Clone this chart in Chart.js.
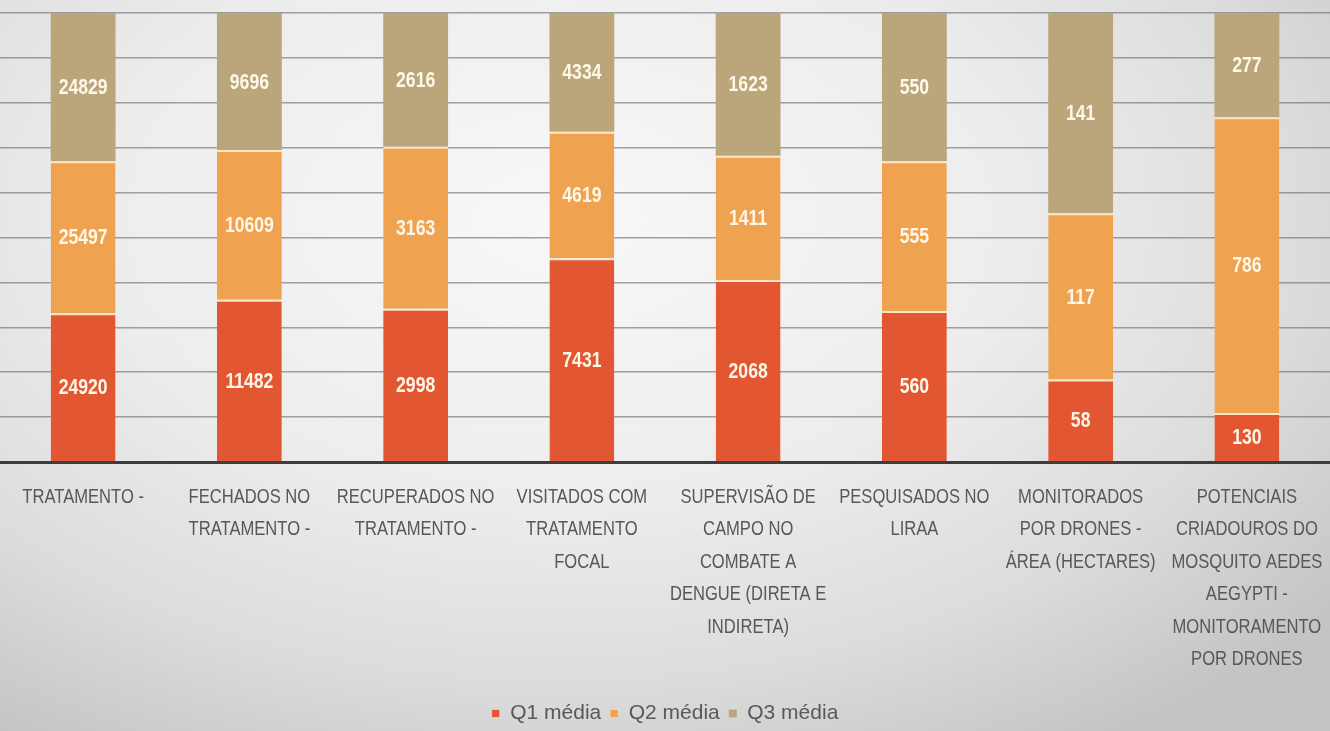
<!DOCTYPE html>
<html>
<head>
<meta charset="utf-8">
<script src="https://cdn.jsdelivr.net/npm/chart.js@4.4.1/dist/chart.umd.min.js"></script>
<style>
  html, body { margin: 0; padding: 0; }
  #wrap {
    width: 1330px;
    height: 731px;
    position: relative;
    background: radial-gradient(ellipse 75% 85% at 42% 30%, #f8f8f8 0%, #ededed 45%, #dcdcdc 75%, #c4c4c4 100%);
  }
</style>
</head>
<body>
<div id="wrap"><canvas id="chart"></canvas></div>
<script>
// categorias (eixo x, já quebradas em linhas como no slide)
const categories = [
  ["TRATAMENTO -"],
  ["FECHADOS NO", "TRATAMENTO -"],
  ["RECUPERADOS NO", "TRATAMENTO -"],
  ["VISITADOS COM", "TRATAMENTO", "FOCAL"],
  ["SUPERVISÃO DE", "CAMPO NO", "COMBATE A", "DENGUE (DIRETA E", "INDIRETA)"],
  ["PESQUISADOS NO", "LIRAA"],
  ["MONITORADOS", "POR DRONES -", "ÁREA (HECTARES)"],
  ["POTENCIAIS", "CRIADOUROS DO", "MOSQUITO AEDES", "AEGYPTI -", "MONITORAMENTO", "POR DRONES"]
];

const q1Media = [24920, 11482, 2998, 7431, 2068, 560, 58, 130];
const q2Media = [25497, 10609, 3163, 4619, 1411, 555, 117, 786];
const q3Media = [24829, 9696, 2616, 4334, 1623, 550, 141, 277];

const seriesNames = ["Q1 média", "Q2 média", "Q3 média"];
const seriesColors = ["#E25632", "#EFA24F", "#BBA67C"];

// 100% empilhado: cada barra vira percentual do total da categoria
const totals = q1Media.map((v, i) => v + q2Media[i] + q3Media[i]);
const pct = arr => arr.map((v, i) => v / totals[i] * 100);

const rawValues = [q1Media, q2Media, q3Media];

// texto "estreito": a fonte do slide é condensada, então comprime na horizontal
function narrowText(ctx, text, x, y, sx) {
  ctx.save();
  ctx.translate(x, y);
  ctx.scale(sx, 1);
  ctx.fillText(text, 0, 0);
  ctx.restore();
}

// rótulos de valor dentro de cada segmento
const valueLabels = {
  id: "valueLabels",
  afterDatasetsDraw(chart) {
    const ctx = chart.ctx;
    ctx.save();
    ctx.font = "bold 22px 'Liberation Sans', Arial, sans-serif";
    ctx.fillStyle = "#FFF8E8";
    ctx.textAlign = "center";
    ctx.textBaseline = "middle";
    chart.data.datasets.forEach((ds, di) => {
      const meta = chart.getDatasetMeta(di);
      meta.data.forEach((bar, i) => {
        const { x, y, base } = bar.getProps(["x", "y", "base"], true);
        narrowText(ctx, String(rawValues[di][i]), x, (y + base) / 2 + 1, 0.8);
      });
    });
    ctx.restore();
  }
};

// rótulos das categorias, desenhados sob o eixo x
const categoryLabels = {
  id: "categoryLabels",
  afterDraw(chart) {
    const ctx = chart.ctx;
    const xs = chart.scales.x;
    ctx.save();
    ctx.font = "21px 'Liberation Sans', Arial, sans-serif";
    ctx.fillStyle = "#585858";
    ctx.textAlign = "center";
    ctx.textBaseline = "middle";
    categories.forEach((lines, i) => {
      const x = xs.getPixelForValue(i);
      lines.forEach((line, k) => {
        narrowText(ctx, line, x, xs.top + 35 + k * 32.5, 0.79);
      });
    });
    ctx.restore();
  }
};

const sepBorder = { top: 2, bottom: 0, left: 0, right: 0 };

new Chart(document.getElementById("chart"), {
  type: "bar",
  data: {
    labels: categories.map(l => l.join(" ")),
    datasets: [
      { label: seriesNames[0], data: pct(q1Media), backgroundColor: seriesColors[0], borderColor: "#FCE6C6", borderWidth: sepBorder, borderSkipped: false },
      { label: seriesNames[1], data: pct(q2Media), backgroundColor: seriesColors[1], borderColor: "#FCE6C6", borderWidth: sepBorder, borderSkipped: false },
      { label: seriesNames[2], data: pct(q3Media), backgroundColor: seriesColors[2], borderWidth: 0 }
    ]
  },
  options: {
    responsive: true,
    maintainAspectRatio: false,
    animation: false,
    categoryPercentage: 1,
    barPercentage: 0.39,
    layout: { padding: { top: 13, left: 0, right: 0, bottom: -3 } },
    plugins: {
      tooltip: { enabled: false },
      legend: {
        position: "bottom",
        labels: {
          color: "#595959",
          boxWidth: 8,
          boxHeight: 8,
          padding: 9,
          font: { family: "'Liberation Sans', Arial, sans-serif", size: 21 }
        }
      }
    },
    scales: {
      x: {
        stacked: true,
        grid: { display: false, drawTicks: false },
        border: { display: true, color: "#3d3d3d", width: 3 },
        ticks: { display: false },
        afterFit(scale) { scale.height = 232; }
      },
      y: {
        stacked: true,
        min: 0,
        max: 100,
        ticks: { display: false, stepSize: 10, padding: 0 },
        grid: { color: "rgba(105,105,105,0.6)", lineWidth: 1.5, drawTicks: false },
        border: { display: false }
      }
    }
  },
  plugins: [valueLabels, categoryLabels]
});
</script>
</body>
</html>
